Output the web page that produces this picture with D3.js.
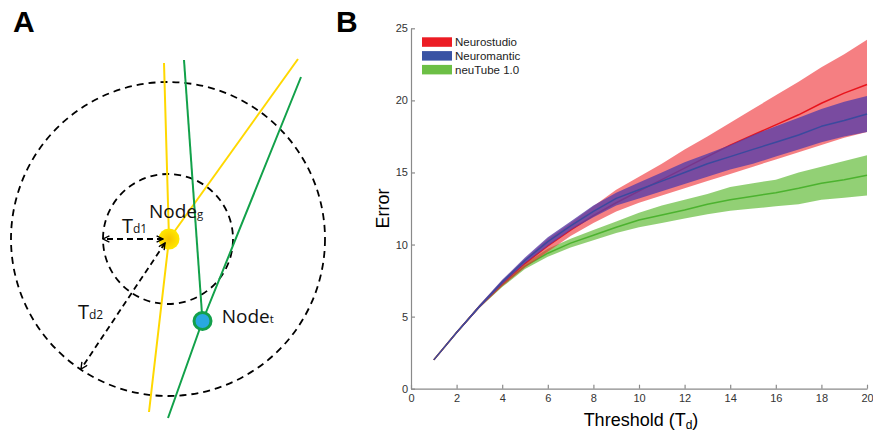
<!DOCTYPE html>
<html>
<head>
<meta charset="utf-8">
<script src="https://cdn.jsdelivr.net/npm/d3@7/dist/d3.min.js"></script>
<style>
    body { margin: 0; background: #fff; }
    svg { display: block; }
</style>
</head>
<body>
<div id="fig"></div>
<script>
// ---- panel B data ----
var thresholds = [1, 2, 3, 4, 5, 6, 7, 8, 9, 10, 11, 12, 13, 14, 15, 16, 17, 18, 19, 20];
var seriesNames = ["Neurostudio", "Neuromantic", "neuTube 1.0"];

var neurostudioMean  = [2.0, 3.9, 5.7, 7.3, 8.7, 9.9, 11.0, 12.0, 12.9, 13.7, 14.5, 15.3, 16.1, 16.9, 17.6, 18.3, 19.0, 19.8, 20.5, 21.1];
var neurostudioUpper = [2.0, 3.95, 5.8, 7.5, 9.0, 10.4, 11.5, 12.65, 13.8, 14.7, 15.6, 16.6, 17.5, 18.45, 19.4, 20.35, 21.3, 22.3, 23.2, 24.2];
var neurostudioLower = [2.0, 3.85, 5.6, 7.1, 8.4, 9.5, 10.6, 11.5, 12.3, 12.9, 13.4, 13.9, 14.4, 14.9, 15.4, 15.9, 16.4, 16.9, 17.4, 17.8];

var neuromanticMean  = [2.0, 3.9, 5.7, 7.4, 8.9, 10.2, 11.3, 12.3, 13.2, 13.8, 14.4, 15.0, 15.6, 16.1, 16.6, 17.1, 17.6, 18.2, 18.6, 19.05];
var neuromanticUpper = [2.0, 3.95, 5.8, 7.55, 9.1, 10.5, 11.6, 12.7, 13.6, 14.3, 15.0, 15.7, 16.3, 16.9, 17.6, 18.2, 18.8, 19.4, 19.9, 20.3];
var neuromanticLower = [2.0, 3.85, 5.6, 7.25, 8.7, 9.9, 11.0, 11.9, 12.7, 13.2, 13.7, 14.2, 14.7, 15.2, 15.6, 16.1, 16.6, 17.1, 17.5, 17.8];

var neutubeMean  = [2.0, 3.9, 5.7, 7.2, 8.5, 9.4, 10.1, 10.65, 11.2, 11.7, 12.05, 12.4, 12.8, 13.1, 13.35, 13.6, 13.9, 14.25, 14.5, 14.8];
var neutubeUpper = [2.0, 3.95, 5.8, 7.35, 8.7, 9.7, 10.4, 11.0, 11.6, 12.2, 12.7, 13.1, 13.5, 14.0, 14.25, 14.5, 15.0, 15.4, 15.8, 16.2];
var neutubeLower = [2.0, 3.85, 5.6, 7.05, 8.3, 9.15, 9.8, 10.3, 10.8, 11.2, 11.5, 11.8, 12.1, 12.35, 12.5, 12.65, 12.8, 13.1, 13.25, 13.4];

var xTicks = [0, 2, 4, 6, 8, 10, 12, 14, 16, 18, 20];
var yTicks = [0, 5, 10, 15, 20, 25];

// ---- panel A data (diagram units, centre of the rings at 0,0) ----
var ringRadii = [65, 157];
var yellowPaths = [
    [[-4, 176], [1, 0], [-19, -173]],
    [[1, 0], [130, 180]]
];
var greenPaths = [
    [[16, 179], [34.5, -82]],
    [[133, 162], [34.5, -82], [0, -179]]
];
var nodeG = [1, 0];
var nodeT = [34.5, -82];
var radiusArrows = [
    [[-5, 0], [-65, 0]],
    [[-3, -4], [-87, -130]]
];

var W = 873, H = 432;

var svg = d3.select("#fig").append("svg")
    .attr("width", W)
    .attr("height", H)
    .style("background", "#fff");

var defs = svg.append("defs");
defs.append("marker")
    .attr("id", "arrow")
    .attr("viewBox", "0 0 10 10")
    .attr("refX", 9)
    .attr("refY", 5)
    .attr("markerWidth", 8)
    .attr("markerHeight", 8)
    .attr("markerUnits", "userSpaceOnUse")
    .attr("orient", "auto-start-reverse")
    .append("path")
        .attr("d", "M1,1 L9,5 L1,9")
        .attr("fill", "none")
        .attr("stroke", "#000")
        .attr("stroke-width", 1.7);

var grad = defs.append("radialGradient").attr("id", "nodeGfill");
grad.append("stop").attr("offset", "0%").attr("stop-color", "#f6c300");
grad.append("stop").attr("offset", "55%").attr("stop-color", "#fcd800");
grad.append("stop").attr("offset", "100%").attr("stop-color", "#ffe800");

// panel letters
svg.append("text").attr("x", 13).attr("y", 32)
    .attr("font-family", "Liberation Sans, Arial, sans-serif")
    .attr("font-weight", "bold").attr("font-size", 30).text("A");
svg.append("text").attr("x", 336).attr("y", 32)
    .attr("font-family", "Liberation Sans, Arial, sans-serif")
    .attr("font-weight", "bold").attr("font-size", 30).text("B");

// ================= panel A =================
var ax = d3.scaleLinear().domain([-160, 160]).range([8, 328]);
var ay = d3.scaleLinear().domain([-180, 180]).range([419, 59]);
var ar = function (r) { return ax(r) - ax(0); };

var gA = svg.append("g");
var pathLine = d3.line()
    .x(function(d) { return ax(d[0]); })
    .y(function(d) { return ay(d[1]); });

gA.selectAll(".ring").data(ringRadii).enter().append("circle")
    .attr("cx", ax(0)).attr("cy", ay(0))
    .attr("r", ar)
    .attr("fill", "none")
    .attr("stroke", "#000")
    .attr("stroke-width", 1.8)
    .attr("stroke-dasharray", "7,5");

gA.selectAll(".ylw").data(yellowPaths).enter().append("path")
    .attr("d", pathLine)
    .attr("fill", "none")
    .attr("stroke", "#ffd800")
    .attr("stroke-width", 2);

gA.selectAll(".grn").data(greenPaths).enter().append("path")
    .attr("d", pathLine)
    .attr("fill", "none")
    .attr("stroke", "#12a14a")
    .attr("stroke-width", 2);

gA.append("circle")
    .attr("cx", ax(nodeG[0])).attr("cy", ay(nodeG[1]))
    .attr("r", ar(10.5))
    .attr("fill", "url(#nodeGfill)");

gA.selectAll(".arr").data(radiusArrows).enter().append("path")
    .attr("d", pathLine)
    .attr("fill", "none")
    .attr("stroke", "#000")
    .attr("stroke-width", 1.8)
    .attr("stroke-dasharray", "6,4")
    .attr("marker-start", "url(#arrow)")
    .attr("marker-end", "url(#arrow)");

gA.append("circle")
    .attr("cx", ax(nodeT[0])).attr("cy", ay(nodeT[1]))
    .attr("r", ar(8.5))
    .attr("fill", "#29a8e0")
    .attr("stroke", "#13a04b")
    .attr("stroke-width", 3);

function subLabel(g, pos, main, sub, size) {
    var t = g.append("text")
        .attr("x", ax(pos[0])).attr("y", ay(pos[1]))
        .attr("font-family", "Open Sans, Noto Sans, sans-serif")
        .attr("font-size", size)
        .attr("fill", "#111");
    t.append("tspan").text(main);
    t.append("tspan").attr("font-size", size * 0.6).text(sub);
}
subLabel(gA, [-19, 21], "Node", "g", 19);
subLabel(gA, [53.7, -84], "Node", "t", 19);
subLabel(gA, [-46, 6], "T", "d1", 20);
subLabel(gA, [-90, -80], "T", "d2", 20);

// ================= panel B =================
var margin = {top: 28.3, right: 6, bottom: 43.3, left: 411};
var x = d3.scaleLinear().domain([0, 20]).range([margin.left, W - margin.right]);
var y = d3.scaleLinear().domain([0, 25]).range([H - margin.bottom, margin.top]);

var gB = svg.append("g");

function rows(mean, lo, hi) {
    return thresholds.map(function(t, i) {
        return {t: t, mean: mean[i], lo: lo[i], hi: hi[i]};
    });
}

var series = [
    {name: seriesNames[2], rows: rows(neutubeMean, neutubeLower, neutubeUpper),
     band: "#6cbf45", bandOpacity: 0.74, line: "#4cb22f", swatch: "#6cbf45"},
    {name: seriesNames[0], rows: rows(neurostudioMean, neurostudioLower, neurostudioUpper),
     band: "#ee2a2e", bandOpacity: 0.6, line: "#e8141c", swatch: "#ec1c24"},
    {name: seriesNames[1], rows: rows(neuromanticMean, neuromanticLower, neuromanticUpper),
     band: "#5a3ea8", bandOpacity: 0.8, line: "#3b4a9e", swatch: "#3953a4"}
];

var area = d3.area()
    .x(function(d) { return x(d.t); })
    .y0(function(d) { return y(d.lo); })
    .y1(function(d) { return y(d.hi); });

var meanLine = d3.line()
    .x(function(d) { return x(d.t); })
    .y(function(d) { return y(d.mean); });

series.forEach(function(s) {
    gB.append("path")
        .datum(s.rows)
        .attr("d", area)
        .attr("fill", s.band)
        .attr("fill-opacity", s.bandOpacity);
    gB.append("path")
        .datum(s.rows)
        .attr("d", meanLine)
        .attr("fill", "none")
        .attr("stroke", s.line)
        .attr("stroke-width", 1.5)
        .attr("stroke-linejoin", "round");
});

// axes
var xAxis = gB.append("g")
    .attr("transform", "translate(0," + y(0) + ")")
    .call(d3.axisBottom(x).tickValues(xTicks).tickSizeInner(-4).tickSizeOuter(0).tickPadding(6));
var yAxis = gB.append("g")
    .attr("transform", "translate(" + x(0) + ",0)")
    .call(d3.axisLeft(y).tickValues(yTicks).tickSizeInner(-4).tickSizeOuter(0).tickPadding(3));

[xAxis, yAxis].forEach(function(a) {
    a.selectAll("path, line").attr("stroke", "#8a8a8a").attr("stroke-width", 1.2);
    a.selectAll("text")
        .attr("font-family", "Liberation Sans, Arial, sans-serif")
        .attr("font-size", 11)
        .attr("fill", "#333");
});

// axis titles
gB.append("text")
    .attr("transform", "translate(389," + ((y(0) + y(25)) / 2) + ") rotate(-90)")
    .attr("text-anchor", "middle")
    .attr("font-family", "Liberation Sans, Arial, sans-serif")
    .attr("font-size", 18)
    .text("Error");

var xt = gB.append("text")
    .attr("x", (x(0) + x(20)) / 2 + 2)
    .attr("y", 426)
    .attr("text-anchor", "middle")
    .attr("font-family", "Liberation Sans, Arial, sans-serif")
    .attr("font-size", 18);
xt.append("tspan").text("Threshold (T");
xt.append("tspan").attr("font-size", 12).attr("dy", 3).text("d");
xt.append("tspan").attr("dy", -3).text(")");

// legend
var legendOrder = [series[1], series[2], series[0]];
var leg = gB.selectAll(".leg").data(legendOrder).enter().append("g")
    .attr("transform", function(d, i) { return "translate(422," + (37.3 + i * 13.8) + ")"; });
leg.append("rect")
    .attr("width", 30).attr("height", 9.5)
    .attr("fill", function(d) { return d.swatch; });
leg.append("text")
    .attr("x", 33).attr("y", 9)
    .attr("font-family", "Liberation Sans, Arial, sans-serif")
    .attr("font-size", 11.5)
    .attr("fill", "#222")
    .text(function(d) { return d.name; });
</script>
</body>
</html>
